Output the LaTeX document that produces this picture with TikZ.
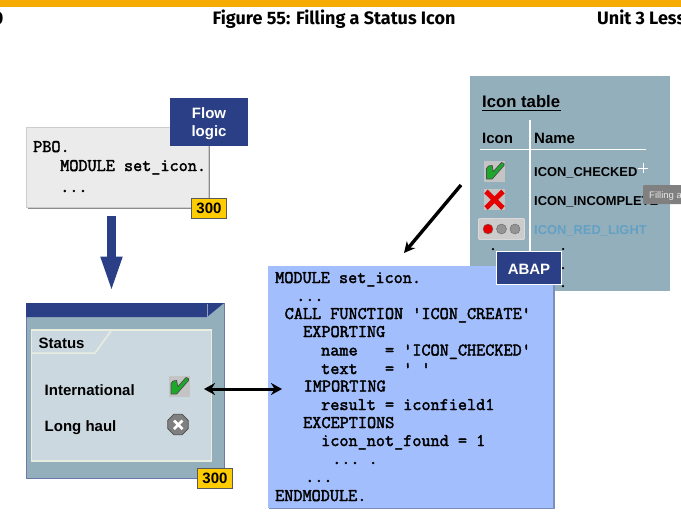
\documentclass[tikz,border=0pt]{standalone}
\usepackage{fontspec}
\setmainfont{Liberation Sans}
\newfontfamily\headfont{Fira Sans}
\newfontfamily\codefont[FakeBold=2.2]{Latin Modern Mono}
\usepackage{tikz}
\usetikzlibrary{arrows.meta,shapes.geometric}

\definecolor{navy}{HTML}{2A3F85}
\definecolor{steel}{HTML}{94AFBC}
\definecolor{codeblue}{HTML}{A3BEFC}
\definecolor{panel}{HTML}{CBD8E0}
\definecolor{panelline}{HTML}{E8EEDF}
\definecolor{iconGrey}{HTML}{C4C4C4}
\definecolor{topband}{HTML}{F5AB00}
\definecolor{tagyellow}{HTML}{FFCC00}
\definecolor{lightname}{HTML}{62A0C4}
\definecolor{checkgreen}{HTML}{1DA82A}
\newcommand{\threedots}{...}

\tikzset{
  box/.style={anchor=north west,inner sep=0pt,outer sep=0pt},
  tag/.style={draw=black!65,fill=tagyellow,line width=0.8pt,minimum width=35pt,minimum height=20pt,
              inner sep=0pt,font=\fontsize{15}{15}\selectfont\bfseries},
  badge/.style={fill=navy,inner sep=0pt},
  badgetext/.style={text=white,align=center,inner sep=0pt,font=\fontsize{15}{18}\selectfont\bfseries},
  label/.style={anchor=base west,inner sep=0pt,font=\fontsize{15}{15}\selectfont\bfseries},
  iconname/.style={anchor=base west,inner sep=0pt,font=\fontsize{12.9}{13}\selectfont\bfseries},
  codeline/.style={anchor=base west,inner sep=0pt,font=\fontsize{17.7}{18}\selectfont\codefont},
  head/.style={anchor=base,inner sep=0pt,font=\fontsize{18}{18}\selectfont\headfont\bfseries},
  handle/.style={circle,fill=black,inner sep=0pt,minimum size=2.5pt},
  lamp/.style={circle,draw=black!60,fill=black!42,inner sep=0pt,minimum size=10pt},
  greencheck/.pic={
    \fill[iconGrey] (-10.5,-10.5) rectangle (10.5,10.5);
    \draw[fill=checkgreen,draw=black!70,line width=0.7pt,line join=round]
      (-8,-3) -- (-6,-5.5) -- (-2.3,-6) -- (-1.3,0.2) -- (7,-9) -- (9.5,-8) -- (9.5,-6) -- (-2.3,7.5) -- (-8,7.5) -- cycle;
  }
}

\begin{document}
\begin{tikzpicture}[x=1pt,y=-1pt,>=Stealth]
  \useasboundingbox (0,0) rectangle (681,517);
  \clip (0,0) rectangle (681,517);

  % page header
  \fill[white] (0,0) rectangle (681,517);
  \fill[topband] (0,0) rectangle (681,7);
  \node[head,anchor=base east] (pagenum) at (3.5,24) {0};
  \node[head] (title) at (334,24) {Figure 55: Filling a Status Icon};
  \node[head,anchor=base west] (unit) at (597,24) {Unit 3 Less};

  % flow logic
  \fill[black!45] (28,129) rectangle (210,209);
  \node[box,draw=black!20,fill=black!8,minimum width=182pt,minimum height=80pt] (pbo) at (26,127) {};
  \node[codeline] (pbo1) at (33,152) {PBO.};
  \node[codeline] (pbo2) at (60,171) {MODULE set\_icon.};
  \node[codeline] (pbo3) at (60,192) {\threedots};
  \node[badge,minimum width=78pt,minimum height=48pt] (flow) at (209,122) {};
  \node[badgetext] (flowtext) at (209,124) {Flow\\logic};
  \node[tag] (tag1) at (209,208) {300};

  % screen
  \node[box,draw=navy!70,fill=steel,minimum width=198pt,minimum height=175pt] (screen) at (26,303) {};
  \fill[navy] (26,303) -- (224,303) -- (207,317) -- (26,317) -- cycle;
  \draw[navy!50!white,line width=0.8pt] (207,304) -- (207,317);
  \node[box,draw=panelline,line width=1.5pt,fill=panel,minimum width=180pt,minimum height=131pt] (tabpanel) at (31.5,330) {};
  \draw[panelline,line width=1.5pt] (32,353) -- (95,353) -- (111,331);
  \node[label] (status) at (38.5,348) {Status};
  \node[label] (intl) at (44.5,395) {International};
  \node[label] (longhaul) at (44.5,431) {Long haul};
  \pic at (179,386.5) {greencheck};
  \node[regular polygon,regular polygon sides=8,draw=black!70,line width=0.8pt,fill=black!50,
        inner sep=0pt,minimum size=22pt] (failicon) at (178,424.5) {};
  \draw[white,line width=2.6pt] (174,420.5) -- (182.5,429) (182.5,420.5) -- (174,429);
  \node[tag] (tag2) at (215,478) {300};

  % icon table
  \node[box,fill=steel,minimum width=200pt,minimum height=215pt] (icontable) at (470,76) {};
  \node[label,font=\fontsize{16.7}{17}\selectfont\bfseries] (tabletitle) at (482,107) {Icon table};
  \draw[black,line width=1.1pt] (482,110.5) -- (561,110.5);
  \node[label] (iconhead) at (482,143) {Icon};
  \node[label] (namehead) at (534,143) {Name};
  \draw[white,line width=1.5pt] (530,120) -- (530,252);
  \draw[white,line width=1.5pt] (480,149.5) -- (646,149.5);
  \pic at (494.5,171.5) {greencheck};
  \fill[iconGrey] (484,189) rectangle (505,210);
  \draw[red!90!black,line width=5pt] (486,191.5) -- (503,208) (503,191.5) -- (486,208);
  \node[iconname] (name1) at (534,176) {ICON\_CHECKED};
  \node[iconname] (name2) at (534,205) {ICON\_INCOMPLETE};
  \node[iconname,text=lightname] (name3) at (534,234) {ICON\_RED\_LIGHT};
  \node[box,draw=white!85!black,line width=0.8pt,fill=black!20,rounded corners=1pt,minimum width=46pt,minimum height=21pt] (lightbtn) at (478.5,218.5) {};
  \node[lamp,fill=red!90!black] (lampred) at (488,229) {};
  \node[lamp] (lampmid) at (501.5,229) {};
  \node[lamp] (lampend) at (515,229) {};

  % cursor and tooltip
  \draw[white,line width=0.8pt] (643,163) -- (643,173) (638,168) -- (648,168);
  \node[box,fill=black!50,rounded corners=1pt,minimum width=45pt,minimum height=19pt] (tooltip) at (643,185) {};
  \node[anchor=base west,inner sep=0pt,text=white!90!black,font=\fontsize{9.5}{10}\selectfont] (tiptext) at (649,198) {Filling a};

  % code
  \fill[black!25!codeblue] (269,266.5) rectangle (554.5,509);
  \node[box,fill=codeblue,minimum width=285pt,minimum height=242pt] (code) at (268,265.5) {};
  \node[handle] (h1) at (493,249) {};
  \node[handle] (h2) at (563,249) {};
  \node[handle] (h3) at (563,268) {};
  \node[handle] (h4) at (563,286) {};
  \node[badge,draw=white,line width=0.8pt,minimum width=65pt,minimum height=33pt] (abap) at (529,268) {};
  \node[badgetext] (abaptext) at (529,269) {ABAP};
  \foreach \cx/\cy/\txt in {
    275/283/MODULE set\_icon.,
    296/301/\threedots,
    284.5/319/CALL FUNCTION 'ICON\_CREATE',
    303/337/EXPORTING,
    321/355.5/name~~~= 'ICON\_CHECKED',
    321/374/text~~~= ' ',
    303.5/391.5/IMPORTING,
    321/410/result = iconfield1,
    303/428/EXCEPTIONS,
    321/446/icon\_not\_found = 1,
    332/464/\threedots~.,
    305/482/\threedots,
    275/501/ENDMODULE.}
    \node[codeline] (code\cy) at (\cx,\cy) {\txt};

  % connectors
  \coordinate (pbotail) at (111.5,216);
  \coordinate (pbotip) at (111.5,293.5);
  \coordinate (tablerow) at (461,185);
  \coordinate (codetop) at (404,253);
  \coordinate (iconside) at (204,389);
  \coordinate (codeside) at (282,389);
  \draw[navy,line width=9.5pt,-{Triangle[length=37pt,width=19pt]}] (pbotail) -- (pbotip);
  \draw[black,line width=3.4pt,-{Stealth[length=11pt,width=11pt]}] (tablerow) -- (codetop);
  \draw[black,line width=3pt,{Stealth[length=11pt,width=12pt]}-{Stealth[length=11pt,width=12pt]}] (iconside) -- (codeside);
\end{tikzpicture}
\end{document}
